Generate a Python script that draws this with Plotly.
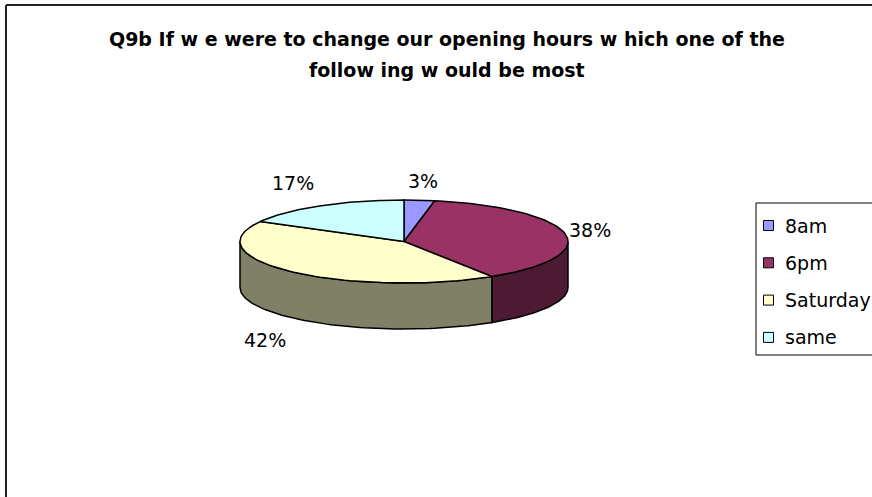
import numpy as np
import plotly.graph_objects as go

# Survey answers
categories = ["8am", "6pm", "Saturday", "same"]
values = [3, 38, 42, 17]
label_texts = ["3%", "38%", "42%", "17%"]
title_lines = ["Q9b If w e were to change our opening hours w hich one of the",
               "follow ing w ould be most"]

# Styling
top_colors = ["#9999FF", "#993366", "#FFFFCC", "#CCFFFF"]
side_colors = ["#4D4D80", "#4D1A33", "#808066", "#668080"]
label_shift = [(4, -19), (25, -4), (-27, 68), (-28, -23)]
FONT = "DejaVu Sans, Liberation Sans, Arial, sans-serif"

W, H = 872, 497
cx, cy = 404, 241.5      # centre of the pie's top face (pixels)
rx, ry = 164, 41.5       # radii of the top ellipse
depth = 46               # thickness of the pie


def rim(deg, drop=0.0):
    t = np.radians(deg)
    return cx + rx * np.cos(t), cy - ry * np.sin(t) + drop


def arc(a0, a1, drop=0.0, n=80):
    ts = np.linspace(a0, a1, n)
    xs, ys = rim(ts, drop)
    return list(xs), list(ys)


fig = go.Figure()

total = float(sum(values))
starts, ends = [], []
acc = 0.0
for v in values:
    a0 = 90 - 360 * acc / total
    acc += v
    a1 = 90 - 360 * acc / total
    starts.append(a0)
    ends.append(a1)

line_style = dict(color="black", width=1.5)

# Outer side walls (only the front half of the cylinder is visible)
for i in range(len(values)):
    a0, a1 = starts[i], ends[i]
    for k in (0, -360):
        lo, hi = max(a1, -180 + k), min(a0, 0 + k)
        if hi - lo <= 0:
            continue
        tx, ty = arc(hi, lo)
        bx, by = arc(lo, hi, drop=depth)
        fig.add_trace(go.Scatter(
            x=tx + bx + [tx[0]], y=ty + by + [ty[0]],
            mode="lines", fill="toself", fillcolor=side_colors[i],
            line=line_style, hoverinfo="skip", showlegend=False))

# Top faces of the slices
for i in range(len(values)):
    ax_, ay_ = arc(starts[i], ends[i])
    fig.add_trace(go.Scatter(
        x=[cx] + ax_ + [cx], y=[cy] + ay_ + [cy],
        mode="lines", fill="toself", fillcolor=top_colors[i],
        line=line_style, hoverinfo="skip", showlegend=False))

# Percentage labels placed around the rim at each slice's mid-angle
for i in range(len(values)):
    mid = (starts[i] + ends[i]) / 2
    lx, ly = rim(mid)
    dx, dy = label_shift[i]
    fig.add_annotation(x=lx, y=ly, xref="x", yref="y", text=label_texts[i],
                       showarrow=False, xshift=dx, yshift=-dy,
                       font=dict(family=FONT, size=19, color="black"))

# Legend box
leg_x0, leg_y0, leg_y1 = 756, 203, 355
fig.add_shape(type="rect", xref="x", yref="y", x0=leg_x0, y0=leg_y0,
              x1=W + 5, y1=leg_y1, line=dict(color="black", width=1),
              fillcolor="white", layer="below")
row_gap = 37.3
for i, name in enumerate(categories):
    yc = 225.5 + i * row_gap
    fig.add_shape(type="rect", xref="x", yref="y", x0=763.5, x1=773.5,
                  y0=yc - 5, y1=yc + 5, fillcolor=top_colors[i],
                  line=dict(color="black", width=1))
    fig.add_annotation(x=783, y=yc, xref="x", yref="y", text=name,
                       showarrow=False, xanchor="left", yanchor="middle",
                       font=dict(family=FONT, size=19, color="black"))

# Chart frame (left and top edges)
fig.add_shape(type="line", xref="x", yref="y", x0=6, y0=5, x1=6, y1=H + 5,
              line=dict(color="#222222", width=2))
fig.add_shape(type="line", xref="x", yref="y", x0=6, y0=5, x1=W + 5, y1=5,
              line=dict(color="#222222", width=2))

# Title, two centred bold lines
for line_text, ty in zip(title_lines, [39, 69.5]):
    fig.add_annotation(x=447, y=ty, xref="x", yref="y", text=f"<b>{line_text}</b>",
                       showarrow=False, xanchor="center", yanchor="middle",
                       font=dict(family=FONT, size=19, color="black"))

fig.update_xaxes(range=[0, W], visible=False, fixedrange=True)
fig.update_yaxes(range=[H, 0], visible=False, fixedrange=True)
fig.update_layout(width=W, height=H, margin=dict(l=0, r=0, t=0, b=0),
                  plot_bgcolor="white", paper_bgcolor="white",
                  showlegend=False)

fig.write_html("out.html", config={"displayModeBar": False})
